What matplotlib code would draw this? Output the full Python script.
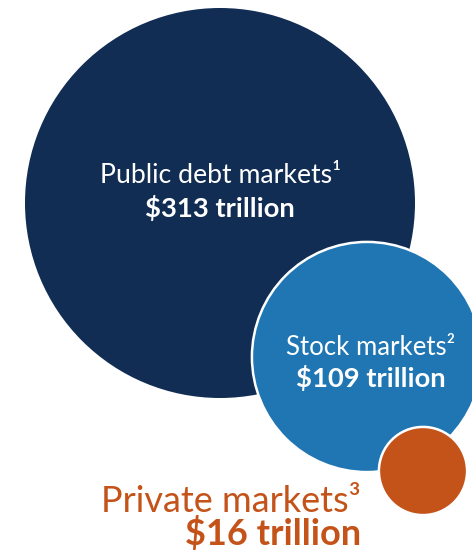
import numpy as np
import matplotlib.pyplot as plt
from matplotlib.patches import Circle

# market sizes, trillions of dollars
markets = ['Public debt markets', 'Stock markets', 'Private markets']
values = [313, 109, 16]
notes = ['¹', '²', '³']
colors = ['#112d53', '#1f76b3', '#c4531a']

plt.rcParams['font.family'] = ['Lato', 'DejaVu Sans']

fig = plt.figure(figsize=(4.72, 5.52), dpi=100)
ax = fig.add_axes([0, 0, 1, 1])
ax.set_xlim(0, 472)
ax.set_ylim(552, 0)
ax.set_aspect('equal')
ax.axis('off')

# radius scaled so that circle area follows the value
k = 195 / np.sqrt(values[0])
radii = [k * np.sqrt(v) for v in values]
centers = [(220, 203), (367, 357), (423, 471)]

for i, (c, r) in enumerate(zip(centers, radii)):
    ec = 'none' if i == 0 else 'white'
    ax.add_patch(Circle(c, r, facecolor=colors[i], edgecolor=ec,
                        linewidth=1.8, zorder=i + 1))

ax.text(221, 183, markets[0] + notes[0], color='white', fontsize=19.2,
        ha='center', va='baseline', zorder=5)
ax.text(220, 217, '$%d trillion' % values[0], color='white', fontsize=19.7,
        fontweight='bold', ha='center', va='baseline', zorder=5)

ax.text(371, 355, markets[1] + notes[1], color='white', fontsize=18.5,
        ha='center', va='baseline', zorder=5)
ax.text(371, 387, '$%d trillion' % values[1], color='white', fontsize=19.7,
        fontweight='bold', ha='center', va='baseline', zorder=5)

ax.text(361, 512, markets[2] + notes[2], color=colors[2], fontsize=26,
        ha='right', va='baseline', zorder=5)
ax.text(361, 545, '$%d trillion' % values[2], color=colors[2], fontsize=26,
        fontweight='bold', ha='right', va='baseline', zorder=5)

fig.savefig('out.png', dpi=100)
